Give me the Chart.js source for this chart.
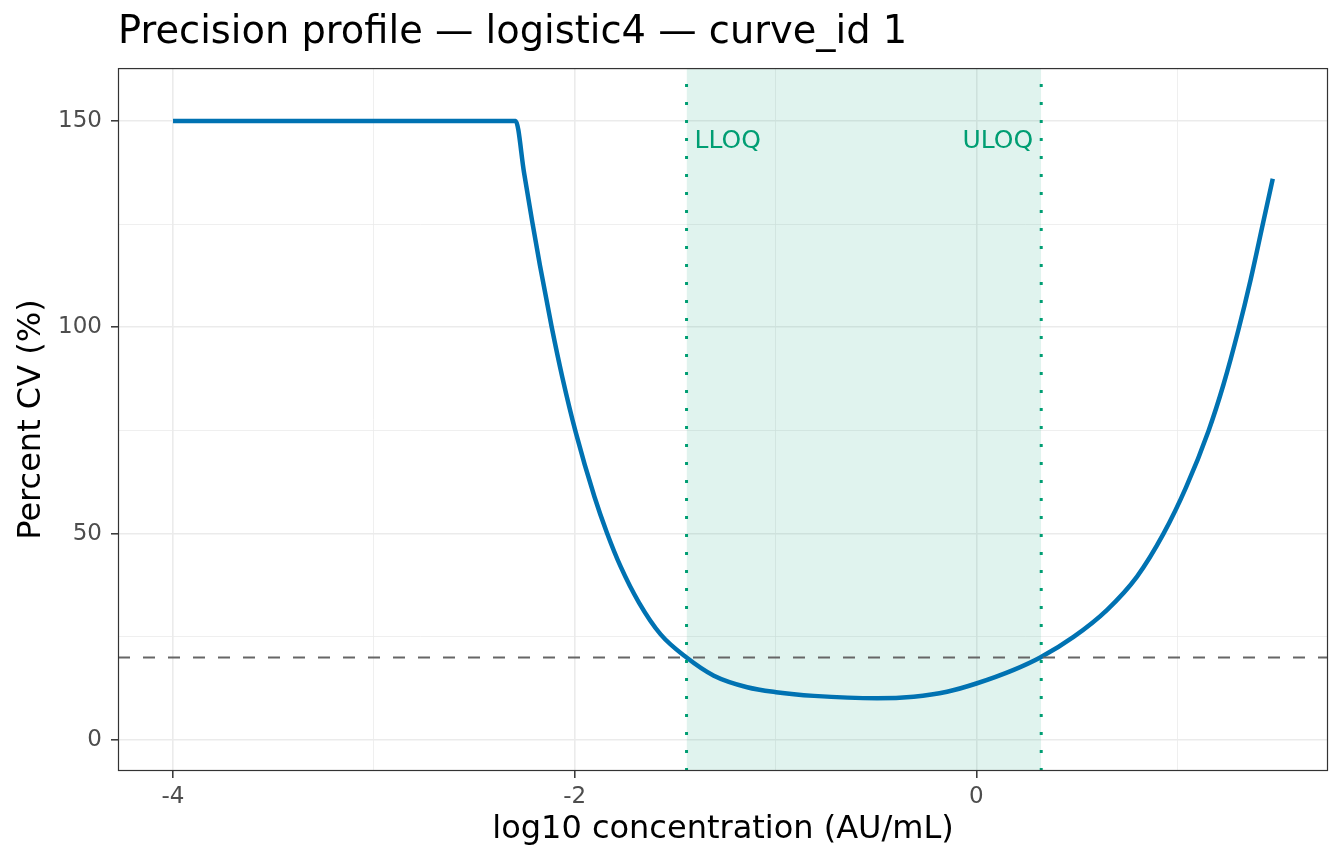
<!DOCTYPE html>
<html>
<head>
<meta charset="utf-8">
<script src="https://cdn.jsdelivr.net/npm/chart.js@4.4.1/dist/chart.umd.min.js"></script>
<style>
    html, body { margin: 0; padding: 0; background: #fff; }
    #wrap { width: 1344px; height: 864px; }
</style>
</head>
<body>
<div id="wrap"><canvas id="profileChart" width="1344" height="864"></canvas></div>
<script>
// Precision profile data
const logConc = [-4, -2.294, -2.252, -2.211, -2.173, -2.115, -2.061, -1.995, -1.902, -1.84,
    -1.771, -1.68, -1.572, -1.443, -1.307, -1.141, -0.997, -0.809, -0.494,
    -0.312, -0.146, 0, 0.186, 0.318, 0.484, 0.65, 0.8, 0.932, 1.044,
    1.156, 1.231, 1.305, 1.366, 1.426, 1.476];
const percentCv = [150, 150, 137.4, 125.5, 115, 100.2, 87.8, 74.6, 59.0, 50.3,
    42.0, 33.3, 25.6, 20, 15.6, 12.8, 11.6, 10.7, 10.1,
    10.5, 11.7, 13.7, 17.0, 20.0, 25.0, 31.5, 39.6, 50, 61.2,
    74.9, 86.2, 99.4, 111.6, 124.9, 136];

const limitNames = ['LLOQ', 'ULOQ'];
const limitValues = [-1.443, 0.323];
const cvThreshold = 20;

const xMajorTicks = [-4, -2, 0];
const xMinorTicks = [-3, -1, 1];
const yMajorTicks = [0, 50, 100, 150];
const yMinorTicks = [25, 75, 125];

const X_MIN = -4.274, X_MAX = 1.751;
const Y_MIN = -7.5, Y_MAX = 162.8;
const LABEL_Y = 145;

const GREEN = '#009E73';
const FONT = 'DejaVu Sans';

// panel frame + limit labels
const panelPlugin = {
    id: 'panelPlugin',
    afterDatasetsDraw(chart) {
        const { ctx, chartArea, scales } = chart;
        ctx.save();
        ctx.fillStyle = GREEN;
        ctx.font = '25px "' + FONT + '"';
        ctx.textBaseline = 'middle';
        const py = scales.y.getPixelForValue(LABEL_Y);
        limitNames.forEach((name, i) => {
            const px = scales.x.getPixelForValue(limitValues[i]);
            if (i === 0) {
                ctx.textAlign = 'left';
                ctx.fillText(name, px + 8, py);
            } else {
                ctx.textAlign = 'right';
                ctx.fillText(name, px - 8, py);
            }
        });
        ctx.strokeStyle = '#333333';
        ctx.lineWidth = 1.2;
        ctx.strokeRect(chartArea.left + 0.5, chartArea.top + 0.5,
            chartArea.right - chartArea.left - 1, chartArea.bottom - chartArea.top - 1);
        ctx.restore();
    }
};

const curvePoints = logConc.map((x, i) => ({ x: x, y: percentCv[i] }));

const limitDatasets = limitValues.map((v) => ({
    data: [{ x: v, y: Y_MIN }, { x: v, y: Y_MAX }],
    borderColor: GREEN,
    borderWidth: 3,
    borderDash: [3, 15],
    pointRadius: 0,
    fill: false,
    order: 1
}));

const isMajor = (list, v) => list.some(m => Math.abs(m - v) < 1e-9);

const ctx = document.getElementById('profileChart').getContext('2d');
new Chart(ctx, {
    type: 'line',
    data: {
        datasets: [
            {
                // quantifiable range band
                data: [{ x: limitValues[0], y: Y_MAX }, { x: limitValues[1], y: Y_MAX }],
                borderWidth: 0,
                pointRadius: 0,
                fill: 'start',
                backgroundColor: 'rgba(0, 158, 115, 0.12)',
                order: 4
            },
            {
                data: curvePoints,
                borderColor: '#0072B2',
                borderWidth: 4.5,
                pointRadius: 0,
                cubicInterpolationMode: 'monotone',
                fill: false,
                order: 3
            },
            {
                data: [{ x: X_MIN, y: cvThreshold }, { x: X_MAX, y: cvThreshold }],
                borderColor: '#666666',
                borderWidth: 2,
                borderDash: [12, 13],
                pointRadius: 0,
                fill: false,
                order: 2
            },
            ...limitDatasets
        ]
    },
    options: {
        responsive: false,
        animation: false,
        layout: { padding: { left: 0, right: 16, top: 0, bottom: 0 } },
        plugins: {
            legend: { display: false },
            tooltip: { enabled: false },
            title: {
                display: true,
                fullSize: false,
                align: 'start',
                text: 'Precision profile — logistic4 — curve_id 1',
                color: '#000000',
                font: { family: FONT, size: 38.4, weight: 'normal' },
                padding: { top: 10, bottom: 12 }
            }
        },
        scales: {
            x: {
                type: 'linear',
                min: X_MIN,
                max: X_MAX,
                afterBuildTicks: (scale) => {
                    scale.ticks = [...xMajorTicks, ...xMinorTicks].sort((a, b) => a - b).map(v => ({ value: v }));
                },
                afterFit: (scale) => { scale.height = 93; },
                border: { display: false },
                grid: {
                    color: '#ebebeb',
                    lineWidth: (c) => isMajor(xMajorTicks, c.tick.value) ? 1.6 : 0.8,
                    tickColor: (c) => isMajor(xMajorTicks, c.tick.value) ? '#333333' : 'rgba(0,0,0,0)',
                    tickWidth: 1.5,
                    tickLength: 7
                },
                ticks: {
                    autoSkip: false,
                    maxRotation: 0,
                    padding: 5,
                    color: '#4d4d4d',
                    font: { family: FONT, size: 23 },
                    callback: (v) => isMajor(xMajorTicks, v) ? String(v) : ''
                },
                title: {
                    display: true,
                    text: 'log10 concentration (AU/mL)',
                    color: '#000000',
                    font: { family: FONT, size: 32 },
                    padding: { top: 0, bottom: 15 }
                }
            },
            y: {
                min: Y_MIN,
                max: Y_MAX,
                afterBuildTicks: (scale) => {
                    scale.ticks = [...yMajorTicks, ...yMinorTicks].sort((a, b) => a - b).map(v => ({ value: v }));
                },
                afterFit: (scale) => { scale.width = 118; },
                border: { display: false },
                grid: {
                    color: '#ebebeb',
                    lineWidth: (c) => isMajor(yMajorTicks, c.tick.value) ? 1.6 : 0.8,
                    tickColor: (c) => isMajor(yMajorTicks, c.tick.value) ? '#333333' : 'rgba(0,0,0,0)',
                    tickWidth: 1.5,
                    tickLength: 7
                },
                ticks: {
                    autoSkip: false,
                    padding: 9,
                    color: '#4d4d4d',
                    font: { family: FONT, size: 23 },
                    callback: (v) => isMajor(yMajorTicks, v) ? String(v) : ''
                },
                title: {
                    display: true,
                    text: 'Percent CV (%)',
                    color: '#000000',
                    font: { family: FONT, size: 32 },
                    padding: { top: 12, bottom: 0 }
                }
            }
        }
    },
    plugins: [panelPlugin]
});
</script>
</body>
</html>
